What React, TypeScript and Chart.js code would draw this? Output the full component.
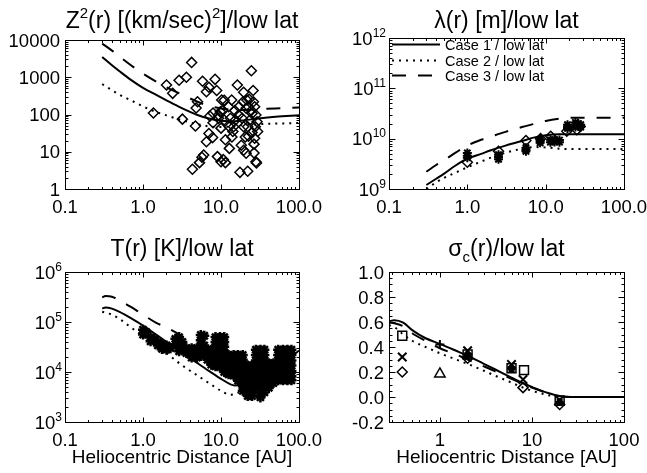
import { useEffect, useRef } from "react";
import { Chart, registerables } from "chart.js";
Chart.register(...registerables);

const FONT = "'Liberation Sans', Arial, Helvetica, sans-serif";
const W = 647;
const H = 473;

// ---------------- Panel 1: Z^2(r) ----------------
const Z2_R = [0.3, 0.4, 0.5, 0.7, 1, 1.5, 2, 3, 5, 7, 10, 15, 20, 30, 50, 100];
const Z2_CASE1 = [3500, 2100, 1450, 850, 520, 330, 240, 155, 97, 78, 68, 66, 70, 78, 87, 96];
const Z2_CASE2 = [650, 450, 340, 240, 165, 115, 95, 72, 55, 48, 46, 49, 52, 55, 57, 59];
const Z2_CASE3 = [8000, 5200, 3600, 2100, 1250, 750, 540, 360, 220, 170, 145, 133, 133, 138, 146, 155];
const Z2_OBS: [number, number][] = [
  [4.2, 2500], [2.0, 620], [2.4, 370], [2.9, 830], [3.6, 1000], [1.36, 110], [3.2, 75], [4.7, 49],
  [5.0, 220], [4.8, 150], [5.8, 780], [6.5, 410], [7.0, 540], [8.4, 880], [8.8, 440], [7.9, 60],
  [7.2, 91], [7.0, 31], [7.8, 24], [6.5, 18.5], [6.0, 8.2], [5.7, 7.1], [5.3, 5.1], [4.3, 3.4],
  [9.0, 7.4], [10, 5.4], [10.7, 6.2], [11.4, 5.1], [9.3, 97], [9.8, 118], [10.6, 128], [10.0, 43],
  [11, 240], [12.5, 162], [11.4, 21], [12.8, 12.3], [13.8, 25], [14.2, 35], [14.5, 47], [16.2, 620],
  [17, 162], [16.8, 97], [18.2, 15], [19.5, 395], [19.5, 11], [21, 9.1], [22.5, 26], [22, 47],
  [23.5, 71], [25, 107], [23, 257], [24.5, 1500], [26, 220], [26.5, 9.3], [22, 3.0], [17.5, 2.8],
  [28, 5.4], [28.5, 5.0], [25.8, 440], [27, 162], [28, 97], [27.5, 47], [27, 23], [26.5, 16],
  [20.5, 25], [19.5, 47], [18.7, 79], [15, 128], [13.7, 245], [13.2, 79], [12.8, 47], [21, 147],
  [22.5, 162], [29, 64], [10.2, 245], [7.9, 110], [9.3, 79], [11, 71], [15.3, 71], [19.2, 220],
  [21.5, 245], [24.5, 128], [29.5, 35], [25, 33],
];

// ---------------- Panel 2: lambda(r) ----------------
const LAM_R = [0.3, 0.4, 0.5, 0.7, 1, 1.5, 2, 3, 5, 7, 10, 15, 20, 30, 50, 100];
const LAM_CASE1 = [1.2e9, 1.6e9, 2.0e9, 2.9e9, 4.0e9, 5.0e9, 5.9e9, 7.2e9, 9.0e9, 1.05e10, 1.17e10, 1.22e10, 1.22e10, 1.22e10, 1.22e10, 1.22e10];
const LAM_CASE2 = [1.0e9, 1.35e9, 1.65e9, 2.1e9, 2.7e9, 3.5e9, 4.2e9, 5.2e9, 6.3e9, 6.8e9, 6.7e9, 6.3e9, 6.2e9, 6.2e9, 6.2e9, 6.2e9];
const LAM_CASE3 = [2.2e9, 3.0e9, 3.7e9, 5.2e9, 7.3e9, 9.5e9, 1.1e10, 1.35e10, 1.7e10, 1.95e10, 2.25e10, 2.5e10, 2.6e10, 2.6e10, 2.6e10, 2.6e10];
const LAM_OBS_DIAMOND: [number, number][] = [
  [1.0, 3.4e9], [2.5, 5.6e9], [5.6, 9.2e9], [8.6, 1.0e10], [11.6, 1.12e10], [18.6, 1.4e10], [25, 1.5e10], [27.5, 1.75e10],
];
const LAM_OBS_STAR: [number, number][] = [
  [1.0, 5.2e9], [1.0, 4.6e9], [1.0, 4.2e9],
  [2.5, 4.8e9], [2.5, 4.3e9], [2.5, 3.9e9],
  [5.6, 6.6e9], [5.6, 6.0e9], [5.6, 5.6e9],
  [8.5, 9.6e9], [8.5, 8.9e9], [8.5, 8.3e9],
  [11.5, 9.5e9], [11.5, 8.5e9], [13, 9.6e9], [13, 8.6e9], [15, 9.4e9], [15, 8.5e9],
  [19, 1.9e10], [19, 1.7e10], [19, 1.6e10],
  [24, 2.1e10], [24, 1.9e10], [24, 1.7e10],
  [26, 2.0e10], [26, 1.8e10], [28, 1.9e10], [28, 1.7e10],
];

// ---------------- Panel 3: T(r) ----------------
const T_R1 = [0.3, 0.33, 0.4, 0.5, 0.7, 1, 1.5, 2, 3, 5, 7, 10, 15, 20, 30, 50, 70, 100];
const T_CASE1 = [1.85e5, 1.95e5, 1.85e5, 1.6e5, 1.2e5, 8.5e4, 5.5e4, 4.0e4, 2.6e4, 1.5e4, 1.05e4, 7.3e3, 5.4e3, 5.6e3, 7.5e3, 1.2e4, 1.7e4, 2.7e4];
const T_R2 = [0.3, 0.4, 0.5, 0.7, 1, 1.5, 2, 3, 5, 7, 10, 13, 15, 17];
const T_CASE2 = [1.6e5, 1.4e5, 1.15e5, 7.8e4, 5.2e4, 3.3e4, 2.4e4, 1.45e4, 8.5e3, 6.0e3, 4.2e3, 3.5e3, 3.6e3, 3.9e3];
const T_R3 = [0.3, 0.33, 0.4, 0.5, 0.7, 1, 1.5, 2, 3, 4];
const T_CASE3 = [3.1e5, 3.3e5, 3.2e5, 2.7e5, 2.0e5, 1.4e5, 9.5e4, 7.8e4, 5.5e4, 4.0e4];
const T_OBS: [number, number][] = [
  [1.0, 7e4], [1.0, 5.6e4], [1.1, 6.3e4],
  [1.25, 5e4], [1.25, 4.1e4], [1.4, 4.6e4], [1.55, 4e4], [1.55, 3.4e4],
  [1.75, 3.6e4], [1.75, 2.9e4], [2.0, 3.4e4], [2.0, 2.8e4], [2.25, 3e4],
  [2.6, 4.6e4], [2.6, 3.6e4], [2.9, 5e4], [2.9, 4e4], [2.9, 3.2e4], [2.9, 2.6e4], [3.2, 4e4], [3.2, 3.2e4],
  [3.6, 3.0e4], [3.6, 2.4e4],
  [4.2, 3.0e4], [4.2, 2.4e4], [4.2, 1.95e4],
  [4.9, 3.0e4], [4.9, 2.4e4], [4.9, 1.95e4],
  [5.5, 5.5e4], [5.5, 4.3e4], [5.5, 3.4e4], [5.5, 2.7e4], [5.5, 2.1e4],
  [6.1, 5.3e4], [6.1, 3.4e4], [6.1, 2.7e4], [6.1, 2.1e4],
  [6.7, 2.8e4], [6.7, 2.2e4], [6.7, 1.75e4],
  [7.5, 2.8e4], [7.5, 2.2e4], [7.5, 1.75e4], [7.5, 1.4e4],
  [8.5, 5e4], [8.5, 4e4], [8.5, 3.2e4], [8.5, 2.5e4], [8.5, 2e4], [8.5, 1.6e4], [8.5, 1.3e4],
  [9.7, 5e4], [9.7, 4e4], [9.7, 3.2e4], [9.7, 2.5e4], [9.7, 2e4], [9.7, 1.6e4], [9.7, 1.25e4],
  [11, 5e4], [11, 4e4], [11, 3.2e4], [11, 2.5e4], [11, 2e4], [11, 1.6e4], [11, 1.25e4], [11, 1e4],
  [12.5, 2.2e4], [12.5, 1.75e4], [12.5, 1.4e4], [12.5, 1.1e4], [12.5, 9e3],
  [14.5, 2.2e4], [14.5, 1.75e4], [14.5, 1.4e4], [14.5, 1.1e4], [14.5, 8.5e3],
  [16.5, 2.2e4], [16.5, 1.75e4], [16.5, 1.4e4], [16.5, 1.1e4], [16.5, 8.5e3], [16.5, 6.7e3],
  [19, 2.2e4], [19, 1.75e4], [19, 1.4e4], [19, 1.1e4], [19, 8.5e3], [19, 6.7e3], [19, 5.2e3], [19, 4.2e3],
  [22, 1.35e4], [22, 1.05e4], [22, 8.2e3], [22, 6.4e3], [22, 5e3], [22, 3.9e3], [22, 3.3e3],
  [25, 1.35e4], [25, 1.05e4], [25, 8.2e3], [25, 6.4e3], [25, 5e3], [25, 3.9e3], [25, 3.3e3],
  [28, 2.8e4], [28, 2.2e4], [28, 1.7e4], [28, 1.35e4], [28, 1.05e4], [28, 8.2e3], [28, 6.4e3], [28, 5e3],
  [32, 2.8e4], [32, 2.2e4], [32, 1.7e4], [32, 1.35e4], [32, 1.05e4], [32, 8.2e3], [32, 6.4e3], [32, 5e3], [32, 3.9e3], [32, 3.1e3],
  [36, 2.8e4], [36, 2.2e4], [36, 1.7e4], [36, 1.35e4], [36, 1.05e4], [36, 8.2e3], [36, 6.4e3], [36, 5e3], [36, 3.9e3],
  [41, 1.5e4], [41, 1.2e4], [41, 9.5e3], [41, 7.5e3], [41, 5.8e3], [41, 4.8e3],
  [47, 1.5e4], [47, 1.2e4], [47, 9.5e3], [47, 7.5e3], [47, 6e3],
  [54, 2.8e4], [54, 2.2e4], [54, 1.7e4], [54, 1.35e4], [54, 1.05e4], [54, 8.2e3], [54, 6.8e3],
  [62, 2.8e4], [62, 2.2e4], [62, 1.7e4], [62, 1.35e4], [62, 1.05e4], [62, 8.2e3], [62, 6.8e3],
  [71, 2.8e4], [71, 2.2e4], [71, 1.7e4], [71, 1.35e4], [71, 1.05e4], [71, 8.2e3], [71, 6.8e3],
  [80, 2.8e4], [80, 2.2e4], [80, 1.7e4], [80, 1.35e4], [80, 1.05e4], [80, 8.2e3], [80, 6.8e3],
];

// ---------------- Panel 4: sigma_c(r) ----------------
const SIG_R = [0.28, 0.32, 0.4, 0.5, 0.7, 1, 1.5, 2, 3, 4, 6, 8, 10, 15, 20, 30, 50, 100];
const SIG_CASE1 = [0.605, 0.615, 0.595, 0.535, 0.47, 0.425, 0.37, 0.33, 0.265, 0.22, 0.155, 0.11, 0.08, 0.032, 0.008, 0, 0, 0];
const SIG_CASE2 = [0.575, 0.56, 0.5, 0.45, 0.4, 0.35, 0.3, 0.265, 0.21, 0.17, 0.115, 0.075, 0.05, 0.015, 0, 0, 0, 0];
const SIG_CASE3 = [0.595, 0.59, 0.565, 0.51, 0.45, 0.39, 0.34, 0.3, 0.245, 0.205, 0.145, 0.105, 0.075, 0.03, 0.005, 0, 0, 0];
const SIG_SQUARE: [number, number][] = [[0.39, 0.49], [2.0, 0.34], [6.0, 0.23], [8.2, 0.215], [20, -0.03]];
const SIG_XMARK: [number, number][] = [[0.39, 0.32], [2.0, 0.37], [6.0, 0.26], [8.0, 0.14], [20, -0.025]];
const SIG_DIAMOND: [number, number][] = [[0.39, 0.2], [2.0, 0.31], [8.0, 0.075], [20, -0.06]];
const SIG_TRIANGLE: [number, number][] = [[1.0, 0.185]];
const SIG_PLUS: [number, number][] = [[1.0, 0.42]];
const SIG_STAR: [number, number][] = [[2.0, 0.33], [6.0, 0.225], [20, -0.04]];

// ---------------- Tick labels ----------------
const X_TICKS = [0.1, 1, 10, 100];
const X_TICK_TEXT = ["0.1", "1.0", "10.0", "100.0"];
const SIG_X_TICKS = [1, 10, 100];
const SIG_X_TICK_TEXT = ["1", "10", "100"];
const Z2_Y_TICKS = [1, 10, 100, 1000, 10000];
const Z2_Y_TICK_TEXT = ["1", "10", "100", "1000", "10000"];
const LAM_Y_TICKS = [1e9, 1e10, 1e11, 1e12];
const LAM_Y_EXP = ["9", "10", "11", "12"];
const T_Y_TICKS = [1e3, 1e4, 1e5, 1e6];
const T_Y_EXP = ["3", "4", "5", "6"];
const SIG_Y_TICKS = [-0.2, 0, 0.2, 0.4, 0.6, 0.8, 1.0];
const SIG_Y_TICK_TEXT = ["-0.2", "0.0", "0.2", "0.4", "0.6", "0.8", "1.0"];
const LEGEND_TEXT = ["Case 1 / low lat", "Case 2 / low lat", "Case 3 / low lat"];
const X_TITLE = "Heliocentric Distance [AU]";

// ---------------- helpers ----------------
type Part = { t: string; s?: "sup" | "sub" };
const SOLID: number[] = [];
const DOTTED = [2, 5];
const DASHED = [14, 12];
const TICK_FONT = 18.5;

const toPts = (xs: number[], ys: number[]) => xs.map((x, i) => ({ x, y: ys[i] }));
const pairPts = (arr: [number, number][]) => arr.map(([x, y]) => ({ x, y }));

function lineDs(xs: number[], ys: number[], dash: number[]) {
  return {
    data: toPts(xs, ys),
    showLine: true,
    borderColor: "#000",
    borderWidth: 2,
    borderDash: dash,
    pointRadius: 0,
    cubicInterpolationMode: "monotone",
    fill: false,
  };
}
function markDs(arr: [number, number][], style: string, radius: number, bw = 1.5) {
  return {
    data: pairPts(arr),
    showLine: false,
    pointStyle: style,
    pointRadius: radius,
    pointBorderWidth: bw,
    borderColor: "#000",
    backgroundColor: "rgba(0,0,0,0)",
    pointBackgroundColor: "rgba(0,0,0,0)",
  };
}

function logMinors(min: number, max: number) {
  const out: number[] = [];
  for (let e = -2; e <= 13; e++) {
    for (let m = 2; m <= 9; m++) {
      const v = m * Math.pow(10, e);
      if (v > min * 1.0001 && v < max * 0.9999) out.push(v);
    }
  }
  return out;
}
function linMinors(min: number, max: number, step: number) {
  const out: number[] = [];
  for (let v = min; v <= max + 1e-9; v += step) out.push(v);
  return out;
}

function drawRich(ctx: CanvasRenderingContext2D, parts: Part[], x: number, y: number, align: string, size: number) {
  const small = Math.round(size * 0.64);
  const widths = parts.map((p) => {
    ctx.font = `${p.s ? small : size}px ${FONT}`;
    return ctx.measureText(p.t).width;
  });
  const total = widths.reduce((a, b) => a + b, 0);
  let cx = align === "center" ? x - total / 2 : align === "right" ? x - total : x;
  ctx.textAlign = "left";
  ctx.textBaseline = "alphabetic";
  parts.forEach((p, i) => {
    ctx.font = `${p.s ? small : size}px ${FONT}`;
    const dy = p.s === "sup" ? -size * 0.42 : p.s === "sub" ? size * 0.24 : 0;
    ctx.fillText(p.t, cx, y + dy);
    cx += widths[i];
  });
}

const idlPlugin = {
  id: "idl",
  afterDraw(chart: any, _args: any, o: any) {
    const ctx: CanvasRenderingContext2D = chart.ctx;
    const a = chart.chartArea;
    const xs = chart.scales.x;
    const ys = chart.scales.y;
    const L = Math.round(a.left) + 0.5;
    const R = Math.round(a.right) + 0.5;
    const T = Math.round(a.top) + 0.5;
    const B = Math.round(a.bottom) + 0.5;
    ctx.save();
    ctx.strokeStyle = "#000";
    ctx.fillStyle = "#000";
    ctx.lineWidth = 1;
    ctx.setLineDash([]);
    ctx.strokeRect(L, T, R - L, B - T);
    ctx.beginPath();
    const xt = (v: number, len: number) => {
      const p = Math.round(xs.getPixelForValue(v)) + 0.5;
      ctx.moveTo(p, B);
      ctx.lineTo(p, B - len);
      ctx.moveTo(p, T);
      ctx.lineTo(p, T + len);
    };
    const yt = (v: number, len: number) => {
      const p = Math.round(ys.getPixelForValue(v)) + 0.5;
      ctx.moveTo(L, p);
      ctx.lineTo(L + len, p);
      ctx.moveTo(R, p);
      ctx.lineTo(R - len, p);
    };
    o.xMajor.forEach((v: number) => xt(v, 5));
    o.xMinor.forEach((v: number) => xt(v, 2.5));
    o.yMajor.forEach((v: number) => yt(v, 6));
    o.yMinor.forEach((v: number) => yt(v, 3));
    ctx.stroke();

    // x tick labels
    o.xMajor.forEach((v: number, i: number) => {
      drawRich(ctx, [{ t: o.xText[i] }], xs.getPixelForValue(v), a.bottom + 24, "center", TICK_FONT);
    });
    // y tick labels
    o.yMajor.forEach((v: number, i: number) => {
      const p = ys.getPixelForValue(v);
      const parts: Part[] = o.yExp ? [{ t: "10" }, { t: o.yExp[i], s: "sup" }] : [{ t: o.yText[i] }];
      drawRich(ctx, parts, a.left - o.yLabelGap, p + 6.6, "right", TICK_FONT);
    });
    // title
    drawRich(ctx, o.title, (a.left + a.right) / 2, o.titleY, "center", 23);
    if (o.xTitle) drawRich(ctx, [{ t: o.xTitle }], (a.left + a.right) / 2, a.bottom + 41, "center", 19);
    // legend
    if (o.legend) {
      o.legend.forEach((lg: any, i: number) => {
        const y = Math.round(a.top + 6 + i * 15.5) + 0.5;
        ctx.beginPath();
        ctx.lineWidth = 2;
        ctx.setLineDash(lg.dash);
        ctx.moveTo(a.left + 3, y);
        ctx.lineTo(a.left + 51, y);
        ctx.stroke();
        ctx.setLineDash([]);
        ctx.font = `14.5px ${FONT}`;
        ctx.textAlign = "left";
        ctx.textBaseline = "middle";
        ctx.fillText(lg.text, a.left + 56, y + 1);
      });
    }
    ctx.restore();
  },
};

type PanelCfg = {
  box: [number, number, number, number];
  xMin: number;
  xMax: number;
  yType: string;
  yMin: number;
  yMax: number;
  datasets: any[];
  plugin: any;
};

const PANELS: PanelCfg[] = [
  {
    box: [65, 40, 299, 189],
    xMin: 0.1, xMax: 100, yType: "logarithmic", yMin: 1, yMax: 10000,
    datasets: [
      lineDs(Z2_R, Z2_CASE1, SOLID),
      lineDs(Z2_R, Z2_CASE2, DOTTED),
      lineDs(Z2_R, Z2_CASE3, DASHED),
      markDs(Z2_OBS, "rectRot", 5, 1.5),
    ],
    plugin: {
      title: [{ t: "Z" }, { t: "2", s: "sup" }, { t: "(r) [(km/sec)" }, { t: "2", s: "sup" }, { t: "]/low lat" }],
      titleY: 28,
      xMajor: X_TICKS, xText: X_TICK_TEXT, xMinor: logMinors(0.1, 100),
      yMajor: Z2_Y_TICKS, yText: Z2_Y_TICK_TEXT, yMinor: logMinors(1, 10000),
      yLabelGap: 5,
    },
  },
  {
    box: [389, 38, 624, 189],
    xMin: 0.1, xMax: 100, yType: "logarithmic", yMin: 1e9, yMax: 1e12,
    datasets: [
      lineDs(LAM_R, LAM_CASE1, SOLID),
      lineDs(LAM_R, LAM_CASE2, DOTTED),
      lineDs(LAM_R, LAM_CASE3, DASHED),
      markDs(LAM_OBS_DIAMOND, "rectRot", 5, 1.5),
      markDs(LAM_OBS_STAR, "star", 4.5, 2),
    ],
    plugin: {
      title: [{ t: "λ(r) [m]/low lat" }],
      titleY: 28,
      xMajor: X_TICKS, xText: X_TICK_TEXT, xMinor: logMinors(0.1, 100),
      yMajor: LAM_Y_TICKS, yExp: LAM_Y_EXP, yMinor: logMinors(1e9, 1e12),
      yLabelGap: 3,
      legend: [
        { text: LEGEND_TEXT[0], dash: SOLID },
        { text: LEGEND_TEXT[1], dash: DOTTED },
        { text: LEGEND_TEXT[2], dash: DASHED },
      ],
    },
  },
  {
    box: [65, 272, 299, 422],
    xMin: 0.1, xMax: 100, yType: "logarithmic", yMin: 1e3, yMax: 1e6,
    datasets: [
      markDs(T_OBS, "star", 5, 2.5),
      lineDs(T_R1, T_CASE1, SOLID),
      lineDs(T_R2, T_CASE2, DOTTED),
      lineDs(T_R3, T_CASE3, DASHED),
    ],
    plugin: {
      title: [{ t: "T(r) [K]/low lat" }],
      titleY: 256,
      xMajor: X_TICKS, xText: X_TICK_TEXT, xMinor: logMinors(0.1, 100),
      yMajor: T_Y_TICKS, yExp: T_Y_EXP, yMinor: logMinors(1e3, 1e6),
      yLabelGap: 3,
      xTitle: X_TITLE,
    },
  },
  {
    box: [389, 272, 624, 422],
    xMin: 0.28, xMax: 100, yType: "linear", yMin: -0.2, yMax: 1.0,
    datasets: [
      lineDs(SIG_R, SIG_CASE1, SOLID),
      lineDs(SIG_R, SIG_CASE2, DOTTED),
      lineDs(SIG_R, SIG_CASE3, DASHED),
      markDs(SIG_SQUARE, "rect", 6.3, 1.5),
      markDs(SIG_XMARK, "crossRot", 6, 2),
      markDs(SIG_DIAMOND, "rectRot", 5, 1.5),
      markDs(SIG_TRIANGLE, "triangle", 6, 1.5),
      markDs(SIG_PLUS, "cross", 4.5, 2),
      markDs(SIG_STAR, "star", 4, 2),
    ],
    plugin: {
      title: [{ t: "σ" }, { t: "c", s: "sub" }, { t: "(r)/low lat" }],
      titleY: 256,
      xMajor: SIG_X_TICKS, xText: SIG_X_TICK_TEXT, xMinor: logMinors(0.28, 100),
      yMajor: SIG_Y_TICKS, yText: SIG_Y_TICK_TEXT, yMinor: linMinors(-0.2, 1.0, 0.05),
      yLabelGap: 5,
      xTitle: X_TITLE,
    },
  },
];

export default function App() {
  const refs = [useRef<HTMLCanvasElement>(null), useRef<HTMLCanvasElement>(null), useRef<HTMLCanvasElement>(null), useRef<HTMLCanvasElement>(null)];
  useEffect(() => {
    const charts: Chart[] = [];
    PANELS.forEach((p, i) => {
      const cv = refs[i].current;
      if (!cv) return;
      const [l, t, r, b] = p.box;
      const ch = new Chart(cv, {
        type: "scatter",
        data: { datasets: p.datasets as any },
        options: {
          responsive: false,
          animation: false,
          devicePixelRatio: 1,
          layout: { padding: { left: l, top: t, right: W - r, bottom: H - b } },
          plugins: {
            legend: { display: false },
            tooltip: { enabled: false },
            title: { display: false },
            idl: p.plugin,
          } as any,
          scales: {
            x: { type: "logarithmic", min: p.xMin, max: p.xMax, display: false },
            y: { type: p.yType as any, min: p.yMin, max: p.yMax, display: false },
          },
        },
        plugins: [idlPlugin as any],
      });
      charts.push(ch);
    });
    return () => charts.forEach((c) => c.destroy());
  }, []);
  return (
    <div style={{ position: "fixed", left: 0, top: 0, width: W, height: H, background: "#fff" }}>
      {refs.map((r, i) => (
        <canvas key={i} ref={r} width={W} height={H} style={{ position: "absolute", left: 0, top: 0, width: W, height: H }} />
      ))}
    </div>
  );
}
